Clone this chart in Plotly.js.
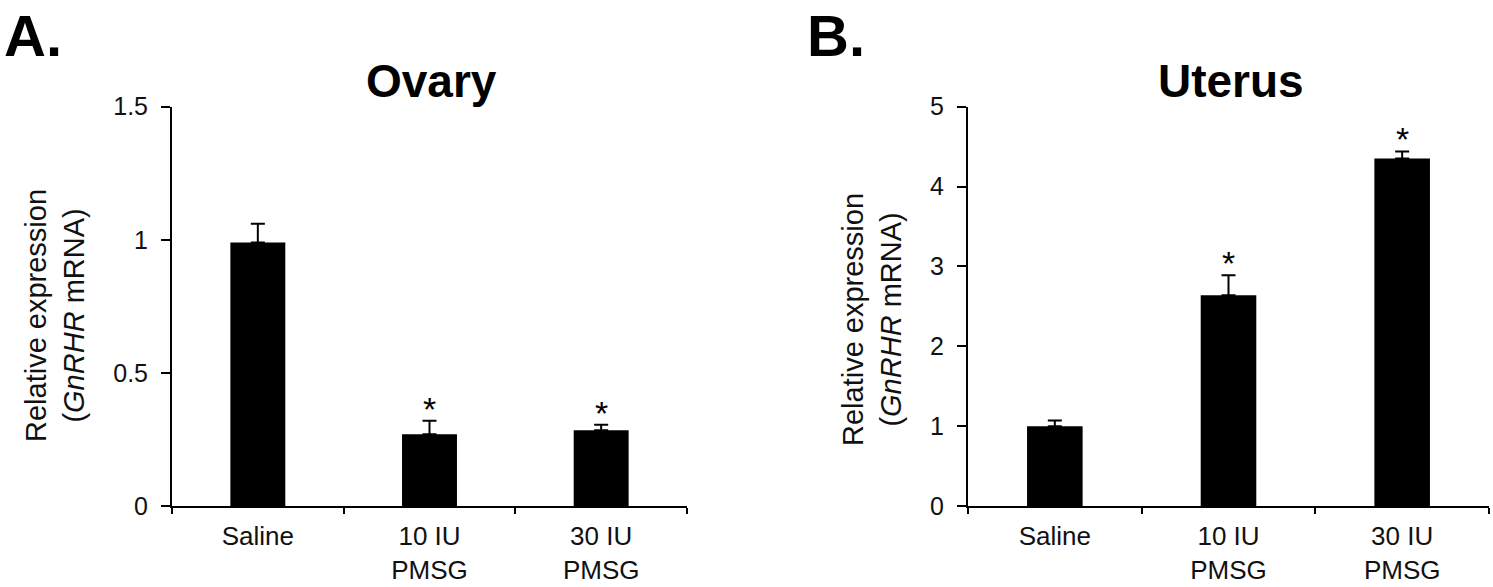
<!DOCTYPE html>
<html>
<head>
<meta charset="utf-8">
<script src="https://cdn.plot.ly/plotly-3.0.1.min.js"></script>
<style>html,body{margin:0;padding:0;background:#fff;}#chart{width:1493px;height:587px;}</style>
</head>
<body>
<div id="chart"></div>
<script>
// ---- data ----
const categories = ["Saline", "10 IU<br>PMSG", "30 IU<br>PMSG"];
const ovaryMeans = [0.99, 0.27, 0.285];
const ovaryErr = [0.07, 0.05, 0.02];
const ovarySig = ["", "*", "*"];
const uterusMeans = [1.0, 2.64, 4.35];
const uterusErr = [0.07, 0.25, 0.09];
const uterusSig = ["", "*", "*"];
const ovaryTicks = [0, 0.5, 1, 1.5];
const uterusTicks = [0, 1, 2, 3, 4, 5];

const W = 1493, H = 587;
const FONT = "Liberation Sans, Arial, Helvetica, sans-serif";
const px = v => v / W;
const py = v => 1 - v / H;

function barTrace(means, err, xa, ya) {
  return {
    type: "bar", x: categories, y: means, xaxis: xa, yaxis: ya,
    width: 0.32,
    marker: {color: "#000", line: {width: 0}},
    error_y: {type: "data", symmetric: false, array: err, arrayminus: err.map(() => 0),
              color: "#000", thickness: 2, width: 7},
    showlegend: false, hoverinfo: "skip"
  };
}

const data = [
  barTrace(ovaryMeans, ovaryErr, "x", "y"),
  barTrace(uterusMeans, uterusErr, "x2", "y2")
];

function xAxis(domain, anchor) {
  return {
    domain: domain, anchor: anchor, type: "category",
    showline: true, linecolor: "#000", linewidth: 2,
    ticks: "outside", tickson: "boundaries", ticklen: 6, tickwidth: 2, tickcolor: "#000",
    tickfont: {family: FONT, size: 26, color: "#111"},
    ticklabelstandoff: 6,
    showgrid: false, zeroline: false, fixedrange: true
  };
}
function yAxis(domain, anchor, range, ticks) {
  return {
    domain: domain, anchor: anchor, range: range,
    tickvals: ticks, ticktext: ticks.map(String),
    showline: true, linecolor: "#000", linewidth: 2,
    ticks: "outside", ticklen: 9, tickwidth: 2, tickcolor: "#000",
    tickfont: {family: FONT, size: 25, color: "#111"},
    ticklabelstandoff: 8,
    showgrid: false, zeroline: false, fixedrange: true
  };
}

const yDom = [1 - 506 / H, 1 - 106.7 / H];

const annotations = [];
function stars(sig, means, err, xa, ya) {
  sig.forEach((s, i) => {
    if (!s) return;
    annotations.push({
      xref: xa, yref: ya, x: categories[i], y: means[i] + err[i],
      text: s, showarrow: false, xanchor: "center", yanchor: "bottom",
      yshift: -9, font: {family: FONT, size: 34, color: "#000"}
    });
  });
}
stars(ovarySig, ovaryMeans, ovaryErr, "x", "y");
stars(uterusSig, uterusMeans, uterusErr, "x2", "y2");

const titleFont = {family: FONT, size: 46, color: "#000"};
annotations.push(
  {xref: "paper", yref: "paper", x: px(431), y: py(81), text: "<b>Ovary</b>", showarrow: false,
   xanchor: "center", yanchor: "middle", font: titleFont},
  {xref: "paper", yref: "paper", x: px(1231), y: py(81), text: "<b>Uterus</b>", showarrow: false,
   xanchor: "center", yanchor: "middle", font: titleFont},
  {xref: "paper", yref: "paper", x: px(2), y: py(1), text: "<b>A.</b>", showarrow: false,
   xanchor: "left", yanchor: "top", font: {family: FONT, size: 58, color: "#000"}},
  {xref: "paper", yref: "paper", x: px(805), y: py(1), text: "<b>B.</b>", showarrow: false,
   xanchor: "left", yanchor: "top", font: {family: FONT, size: 58, color: "#000"}},
  {xref: "paper", yref: "paper", x: px(55), y: py(316), text: "Relative expression<br>(<i>GnRHR</i> mRNA)",
   showarrow: false, textangle: -90, xanchor: "center", yanchor: "middle",
   font: {family: FONT, size: 29, color: "#111"}},
  {xref: "paper", yref: "paper", x: px(872), y: py(320), text: "Relative expression<br>(<i>GnRHR</i> mRNA)",
   showarrow: false, textangle: -90, xanchor: "center", yanchor: "middle",
   font: {family: FONT, size: 29, color: "#111"}}
);

const layout = {
  width: W, height: H,
  margin: {l: 0, r: 0, t: 0, b: 0, pad: 0},
  paper_bgcolor: "#fff", plot_bgcolor: "#fff",
  showlegend: false,
  bargap: 0.68,
  xaxis: xAxis([px(172), px(687)], "y"),
  yaxis: yAxis(yDom, "x", [0, 1.5], ovaryTicks),
  xaxis2: xAxis([px(968), px(1489)], "y2"),
  yaxis2: yAxis(yDom, "x2", [0, 5], uterusTicks),
  annotations: annotations
};

Plotly.newPlot("chart", data, layout, {displayModeBar: false, staticPlot: true});
</script>
</body>
</html>
